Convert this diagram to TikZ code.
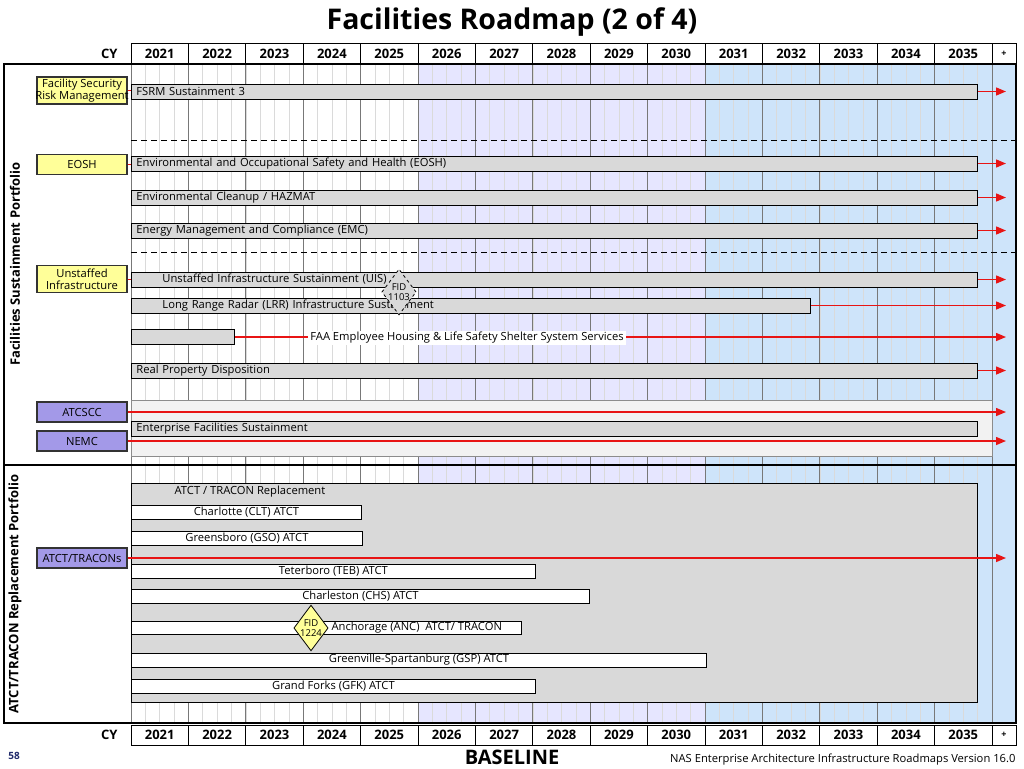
\documentclass[tikz,border=0pt]{standalone}
\usepackage{fontspec}
\setmainfont{Open Sans}
\usetikzlibrary{arrows.meta,shapes.geometric,positioning}
\definecolor{lavender}{RGB}{230,230,255}
\definecolor{skyfill}{RGB}{206,228,250}
\definecolor{labyellow}{RGB}{255,255,153}
\definecolor{labpurple}{RGB}{163,153,232}
\definecolor{barfill}{RGB}{217,217,217}
\definecolor{boxfill}{RGB}{242,242,242}
\definecolor{qgray}{RGB}{218,218,218}
\definecolor{ygray}{RGB}{120,120,120}
\definecolor{navy}{RGB}{31,42,107}
\definecolor{arrred}{RGB}{232,20,20}
\begin{document}
\begin{tikzpicture}[x=1pt,y=-1pt,
  yearcell/.style={draw,line width=1pt,minimum width=57.4pt,minimum height=20pt,inner sep=0pt,font=\fontsize{13}{15}\selectfont\bfseries},
  gbar/.style={draw,line width=0.9pt,fill=barfill,anchor=west,minimum height=15pt,inner xsep=5pt,inner ysep=0pt,align=left,font=\fontsize{11.2}{13}\selectfont},
  wbar/.style={draw,line width=0.9pt,fill=white,anchor=west,minimum height=14pt,inner sep=0pt,font=\fontsize{11.2}{13}\selectfont},
  ylab/.style={draw=black!80,line width=1.2pt,fill=labyellow,minimum width=90pt,inner sep=1pt,align=center,font=\fontsize{11.2}{12}\selectfont},
  plab/.style={ylab,fill=labpurple,minimum height=20pt},
  arr/.style={arrred,line width=1.4pt,-{Triangle[length=10pt,width=8pt]}},
  tie/.style={arrred,line width=1pt},
  fid/.style={diamond,draw,line width=0.8pt,aspect=0.75,minimum width=31pt,minimum height=41pt,inner sep=0pt,align=center,font=\fontsize{9.5}{10}\selectfont},
  txt/.style={font=\fontsize{11.2}{13}\selectfont},
  portf/.style={rotate=90,font=\fontsize{13}{14}\selectfont\bfseries}
]
\useasboundingbox (0,0) rectangle (1024,768);

\node[font=\fontsize{28.5}{32}\selectfont\bfseries] (title) at (512,22) {Facilities Roadmap (2 of 4)};

\fill[white] (4,64) rectangle (418,723);
\fill[lavender] (418,64) rectangle (705,723);
\fill[skyfill] (705,64) rectangle (1016,723);
\foreach \k in {0,...,59}
 \draw[qgray,line width=0.6pt] ({131+14.35*\k},64) -- ({131+14.35*\k},723);
\foreach \k in {0,...,15}
 \draw[ygray,line width=0.9pt] ({131+57.4*\k},64) -- ({131+57.4*\k},723);
\draw[line width=1.2pt] (4,64) rectangle (1016,723);
\draw[line width=1.2pt] (4,465) -- (1016,465);
\draw[line width=1pt,dash pattern=on 6pt off 4pt] (131,140) -- (1016,140);
\draw[line width=1pt,dash pattern=on 6pt off 4pt] (131,252) -- (1016,252);

\foreach \r/\yy in {top/54,bot/735}
{
 \node[anchor=east,font=\fontsize{13}{15}\selectfont\bfseries] (cy\r) at (121,\yy) {CY};
 \foreach \yr [count=\i from 0] in {2021,...,2035}
  \node[yearcell] (\r\yr) at ({159.7+57.4*\i},\yy) {\yr};
 \node[yearcell,minimum width=24pt,font=\fontsize{9}{10}\selectfont\bfseries] (\r plus) at (1004,\yy) {+};
}

\coordinate (tip) at (1006,0);

\node[portf] (fsp) at (15,264) {Facilities Sustainment Portfolio};
\node[portf] (atp) at (15,594) {ATCT/TRACON Replacement Portfolio};

\node[ylab,minimum height=27pt] (fsrmlab) at (82,90.5) {\makebox[88pt]{Facility Security}\\\makebox[88pt]{Risk Management}};
\node[ylab,minimum height=20pt] (eoshlab) at (82,164.5) {EOSH};
\node[ylab,minimum height=27pt] (uislab) at (82,279) {Unstaffed\\Infrastructure};
\node[plab] (atcscclab) at (82,412) {ATCSCC};
\node[plab] (nemclab) at (82,441) {NEMC};
\node[plab] (atctlab) at (82,558) {ATCT/TRACONs};

\node[gbar,text width=836pt] (fsrm) at (131,91.5) {FSRM Sustainment 3};
\node[gbar,text width=836pt] (eosh) at (131,163.5) {Environmental and Occupational Safety and Health (EOSH)};
\node[gbar,text width=836pt] (hazmat) at (131,197.5) {Environmental Cleanup / HAZMAT};
\node[gbar,text width=836pt] (emc) at (131,230.5) {Energy Management and Compliance (EMC)};
\node[gbar,text width=836pt] (uis) at (131,279.5) {\hspace*{26pt}Unstaffed Infrastructure Sustainment (UIS)};
\node[gbar,text width=669pt] (lrr) at (131,305.5) {\hspace*{26pt}Long Range Radar (LRR) Infrastructure Sustainment};
\node[gbar,minimum width=103pt] (faa) at (131,337) {};
\node[gbar,text width=836pt] (rpd) at (131,370.5) {Real Property Disposition};
\node[fid,dashed,fill=barfill] (fid1103) at (399,292) {FID\\1103};

\draw[tie] (fsrmlab.east) -- (fsrmlab.east -| fsrm.west);
\draw[tie] (eoshlab.east) -- (eoshlab.east -| eosh.west);
\draw[tie] (uislab.east) -- (uislab.east -| uis.west);
\foreach \b in {fsrm,eosh,hazmat,emc,uis,lrr,faa,rpd}
 \draw[arr] (\b.east) -- (\b.east -| tip);
\node[txt,fill=white,inner xsep=2pt,inner ysep=1pt] (faatxt) at (467,338) {FAA Employee Housing \& Life Safety Shelter System Services};

\node[draw=black!45,line width=0.8pt,fill=boxfill,anchor=north west,minimum width=861pt,minimum height=56pt,inner sep=0pt] (efsbox) at (131,400) {};
\node[gbar,text width=836pt] (efs) at (131,428.5) {Enterprise Facilities Sustainment};
\draw[arr] (atcscclab.east) -- (atcscclab.east -| tip);
\draw[arr] (nemclab.east) -- (nemclab.east -| tip);

\node[draw,line width=0.9pt,fill=barfill,anchor=north west,minimum width=846pt,minimum height=219pt,inner sep=0pt] (atct) at (131,483) {};
\node[txt] (atcttxt) at (250,492) {ATCT / TRACON Replacement};
\node[wbar,minimum width=230pt] (clt) at (131,512) {Charlotte (CLT) ATCT};
\node[wbar,minimum width=231pt] (gso) at (131,538) {Greensboro (GSO) ATCT};
\draw[arr] (atctlab.east) -- (atctlab.east -| tip);
\node[wbar,minimum width=404pt] (teb) at (131,571.5) {Teterboro (TEB) ATCT};
\node[wbar,minimum width=458pt] (chs) at (131,596.5) {Charleston (CHS) ATCT};
\node[wbar,minimum width=390pt,minimum height=13pt] (anc) at (131,627.5) {};
\node[txt,anchor=west] (anctxt) at (328,627.5) {Anchorage (ANC)\ \ ATCT/ TRACON};
\node[fid,fill=labyellow] (fid1224) at (311,628) {FID\\1224};
\node[wbar,minimum width=575pt] (gsp) at (131,660) {Greenville-Spartanburg (GSP) ATCT};
\node[wbar,minimum width=404pt] (gfk) at (131,686) {Grand Forks (GFK) ATCT};

\node[font=\fontsize{10}{11}\selectfont\bfseries,text=navy] (pagenum) at (14,756) {58};
\node[font=\fontsize{20}{22}\selectfont\bfseries] (baseline) at (512,757) {BASELINE};
\node[txt,anchor=east] (version) at (1019,760) {NAS Enterprise Architecture Infrastructure Roadmaps Version 16.0};

\end{tikzpicture}
\end{document}
